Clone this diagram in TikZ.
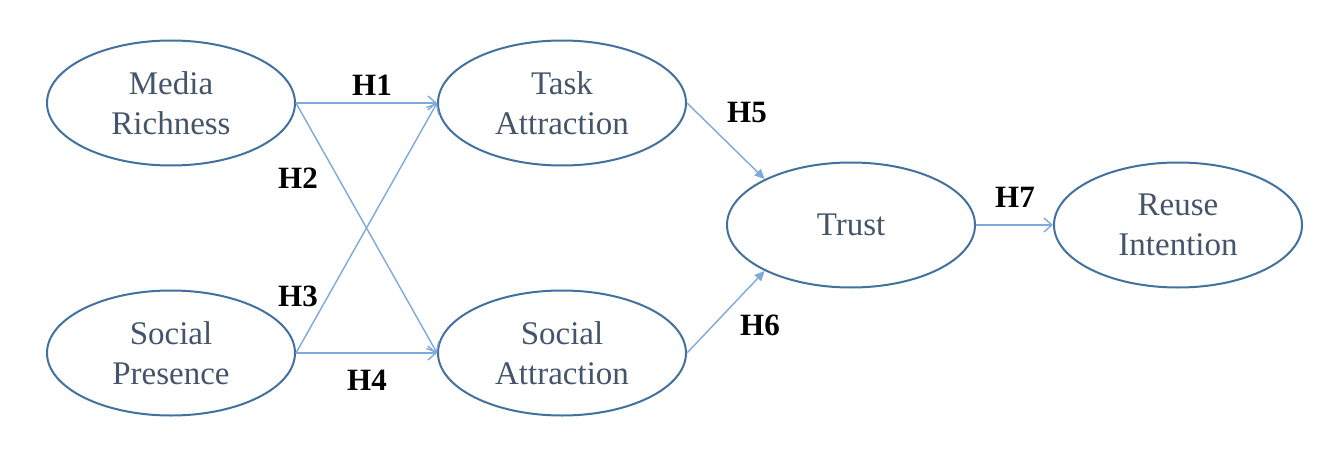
\documentclass[tikz,border=0pt]{standalone}
\usepackage{fontspec}
\setmainfont{Liberation Serif}
\usetikzlibrary{shapes.geometric,arrows.meta}
\definecolor{ellc}{HTML}{41719C}
\definecolor{txtc}{HTML}{44546A}
\definecolor{arrc}{HTML}{7FA8DC}
\tikzset{
  construct/.style={ellipse, draw=ellc, line width=2pt, minimum width=248pt, minimum height=125pt, inner sep=0pt, align=center, text=txtc, font=\fontsize{33}{40}\selectfont},
  hyp/.style={font=\fontsize{31}{36}\selectfont\bfseries, text=black, inner sep=0pt},
  link/.style={draw=arrc, line width=1.4pt, -{Straight Barb[length=8pt,width=14pt,line width=1.4pt]}},
  linkf/.style={draw=arrc, line width=1.4pt, -{Triangle[length=10pt,width=9pt]}, fill=arrc}
}
\begin{document}
\begin{tikzpicture}[x=1pt,y=-1pt]
\useasboundingbox (0,0) rectangle (1324,476);
\node[construct] (mr) at (171,103) {Media\\Richness};
\node[construct] (sp) at (171,353) {Social\\Presence};
\node[construct] (ta) at (562,103) {Task\\Attraction};
\node[construct] (sa) at (562,353) {Social\\Attraction};
\node[construct] (tr) at (851,225) {Trust};
\node[construct] (ri) at (1178,225) {Reuse\\Intention};
\draw[link] (mr.east) -- (ta.west);
\draw[link] (mr.east) -- (sa.west);
\draw[link] (sp.east) -- (ta.west);
\draw[link] (sp.east) -- (sa.west);
\draw[linkf] (ta.east) -- (tr.152);
\draw[linkf] (sa.east) -- (tr.208);
\draw[link] (tr.east) -- (ri.west);
\node[hyp] (h1) at (372,85) {H1};
\node[hyp] (h2) at (298,178) {H2};
\node[hyp] (h3) at (298,296) {H3};
\node[hyp] (h4) at (367,380) {H4};
\node[hyp] (h5) at (747,113) {H5};
\node[hyp] (h6) at (760,325) {H6};
\node[hyp] (h7) at (1015,197) {H7};
\end{tikzpicture}
\end{document}
